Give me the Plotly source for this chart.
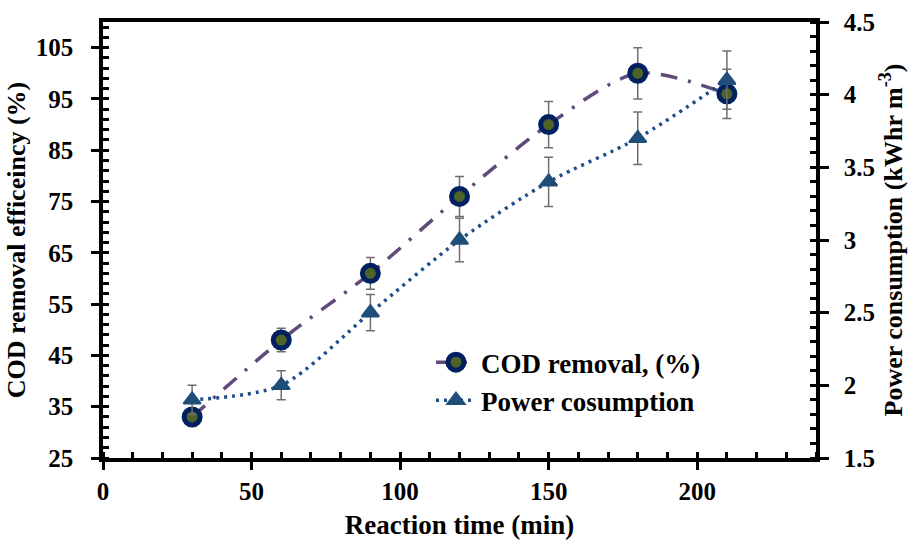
import plotly.graph_objects as go

time_min = [30, 60, 90, 120, 150, 180, 210]
cod_removal = [33, 48, 61, 76, 90, 100, 96]
cod_err = [1.5, 2.3, 3.1, 3.9, 4.5, 5.0, 4.8]
power = [1.9, 2.0, 2.5, 3.0, 3.4, 3.7, 4.1]
power_err = [0.1, 0.1, 0.125, 0.15, 0.17, 0.18, 0.2]

x_ticks = [0, 50, 100, 150, 200]
y_ticks = [25, 35, 45, 55, 65, 75, 85, 95, 105]
y2_ticks = [1.5, 2, 2.5, 3, 3.5, 4, 4.5]
y2_labels = ["1.5", "2", "2.5", "3", "3.5", "4", "4.5"]

FONT = "Liberation Serif, Times New Roman, serif"
BLACK = "#000000"

fig = go.Figure()
fig.add_trace(go.Scatter(
    x=time_min, y=cod_removal, name="<b>COD removal, (%)</b>", mode="lines+markers",
    legendgroup="a",
    line=dict(color="#604a7b", width=3.5, dash="17px,11px,3px,11px", shape="spline", smoothing=0.8),
    marker=dict(symbol="circle", size=16, color="#4f6228", line=dict(color="#002060", width=5)),
    error_y=dict(type="data", array=cod_err, visible=True, color="#6e6e6e", thickness=1.5, width=4.5),
    yaxis="y",
))
fig.add_trace(go.Scatter(
    x=time_min, y=power, name="<b>Power cosumption</b>", mode="lines+markers",
    legendgroup="b",
    line=dict(color="#1f4e8c", width=3.5, dash="3px,5px", shape="spline", smoothing=0.8),
    marker=dict(symbol="triangle-up", size=15, color="#1f4e79", line=dict(color="#1f4e79", width=2)),
    error_y=dict(type="data", array=power_err, visible=True, color="#6e6e6e", thickness=1.5, width=4.5),
    yaxis="y2",
))

tickfont = dict(family=FONT, size=25, color=BLACK)

fig.update_layout(
    width=920, height=540,
    font=dict(family=FONT, color=BLACK),
    margin=dict(l=103, r=104, t=22, b=82, autoexpand=False),
    paper_bgcolor="white", plot_bgcolor="white",
    showlegend=True,
    legend=dict(x=0.46, y=0.275, xanchor="left", yanchor="top",
                font=dict(family=FONT, size=27, color=BLACK),
                bgcolor="rgba(0,0,0,0)", tracegroupgap=0, itemwidth=40),
    xaxis=dict(
        range=[0, 240], tickvals=x_ticks, ticktext=["<b>%d</b>" % v for v in x_ticks],
        showgrid=False, zeroline=False,
        showline=True, linecolor=BLACK, linewidth=3.5, mirror=True,
        ticks="outside", ticklen=8, tickwidth=3, tickcolor=BLACK,
        minor=dict(tick0=0, dtick=10, ticks="inside", ticklen=6, tickwidth=2.5, tickcolor=BLACK, showgrid=False),
        tickfont=tickfont, ticklabelstandoff=0,
        title=dict(text="<b>Reaction time (min)</b>", font=dict(family=FONT, size=27, color=BLACK), standoff=22),
    ),
    yaxis=dict(
        range=[25, 110], tickvals=y_ticks, ticktext=["<b>%d</b>" % v for v in y_ticks],
        showgrid=False, zeroline=False,
        showline=True, linecolor=BLACK, linewidth=3.5,
        ticks="outside", ticklen=8, tickwidth=3, tickcolor=BLACK,
        minor=dict(tick0=25, dtick=2, ticks="inside", ticklen=6, tickwidth=2.5, tickcolor=BLACK, showgrid=False),
        tickfont=tickfont, ticklabelstandoff=13,
        title=dict(text="<b>COD removal efficeincy (%)</b>", font=dict(family=FONT, size=26, color=BLACK), standoff=4),
    ),
    yaxis2=dict(
        range=[1.5, 4.5], tickvals=y2_ticks, ticktext=["<b>%s</b>" % s for s in y2_labels],
        overlaying="y", side="right",
        showgrid=False, zeroline=False,
        showline=True, linecolor=BLACK, linewidth=3.5,
        ticks="outside", ticklen=9, tickwidth=3, tickcolor=BLACK,
        minor=dict(tick0=1.5, dtick=0.1, ticks="inside", ticklen=6, tickwidth=2.5, tickcolor=BLACK, showgrid=False),
        tickfont=tickfont, ticklabelstandoff=10,
        title=dict(text="<b>Power consumption (kWhr m<sup>-3</sup>)</b>", font=dict(family=FONT, size=26, color=BLACK), standoff=9),
    ),
)

fig.write_html("out.html")
